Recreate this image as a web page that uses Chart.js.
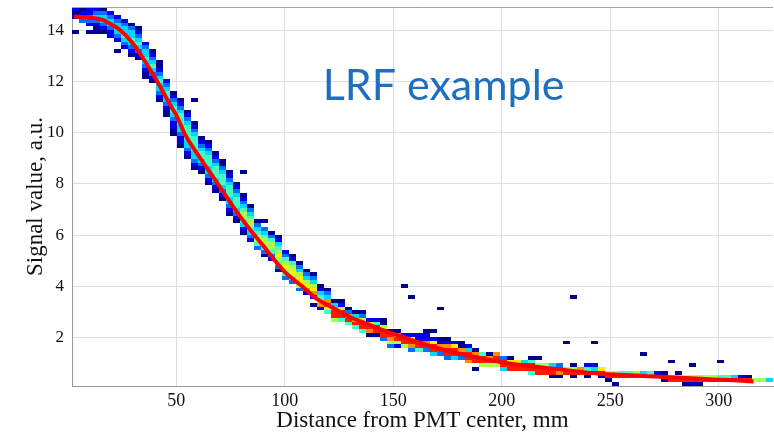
<!DOCTYPE html>
<html>
<head>
<meta charset="utf-8">
<script src="https://cdn.jsdelivr.net/npm/chart.js@4.4.1/dist/chart.umd.min.js"></script>
<style>
  html, body { margin: 0; padding: 0; background: #ffffff; }
  #c { display: block; }
</style>
</head>
<body>
<canvas id="c" width="774" height="433"></canvas>
<script>
// ---------------- data ----------------
const titleText = "LRF example";
const xTitle = "Distance from PMT center, mm";
const yTitle = "Signal value, a.u.";
const xTicks = [50, 100, 150, 200, 250, 300];
const yTicks = [2, 4, 6, 8, 10, 12, 14];

// histogram binning (100 x 100 bins)
const xBinMin = 2, xBinWidth = 3.23;
const yBinMin = 0.1, yBinWidth = 0.148;

// per x-bin: index of the topmost filled y-bin
const colTop = [99,99,99,99,99,98,97,96,95,94, 90,88,85,80,77,75,72,69,65,64,
  61,59,56,53,50,47,43,43,40,39, 35,34,32,30,29,26,25,22,22,20,
  19,19,17,17,17,14,14,13,13,13, 14,14,12,12,11,11,10,9,8,8,
  8,7,7,6,6,7,7,5,5,5, 4,5,4,5,5,4,3,3,3,3,
  3,3,3,3,3,2,3,2,2,2, 2,2,2,2,2,2,2,1,1,1];

// per x-bin: occupancy level of consecutive y-bins going downward (0 = empty, 1..9 = low..high)
const colLevels = [
"212","1223","22332","2343211","1344321","2344322","2344432","23445432","134454321","123454321",
"2344543211","123454321","11234544321","2345543211","123455432211","1234555443221","1234555544321","1234555544321","1234554321","123455544321",
"12345554321","11345554321","123455544321","12345554321","12345665421","1345665432","13456653","1034566531","13566532","1245676531",
"23567653","12567753","13467763","1346782","134678201","1245782","1348975","148996","126995","13895",
"14895","136995","27981","25991","116993","19863","18962","2996","27983","22995",
"122893","1027994","12893","128993","27994","11893","24998","189901","5996","1896",
"8996","3994","1799","799","499","15995","10699","699","4991","3981",
"79","1691","89","2591","249","791","791","6901","59","59",
"69","49","59","29","181","79","179","791","792","691",
"69","69","59","59","49","29","19","6","6","4"
];

// isolated single-count bins
const outCol = [0, 2, 6, 17, 24, 47, 48, 52, 70, 71, 74, 81, 85, 88, 92];
const outRow = [93, 93, 88, 75, 56, 26, 23, 20, 11, 23, 11, 8, 6, 5, 6];

// fitted LRF curve
const curveX = [3, 10, 16, 20, 24, 30, 36, 42, 48, 50, 54, 60, 66, 72, 78, 84, 90, 95, 100, 108,
  115, 122, 130, 138, 145, 150, 160, 170, 180, 190, 200, 210, 225, 245, 260, 275, 292, 305, 316];
const curveY = [14.55, 14.5, 14.42, 14.25, 14.03, 13.5, 12.75, 11.9, 10.98, 10.7, 9.95, 9.15, 8.4, 7.65, 6.9, 6.22, 5.6, 5.06, 4.56, 4.0,
  3.5, 3.17, 2.8, 2.53, 2.29, 2.15, 1.85, 1.59, 1.37, 1.2, 1.03, 0.91, 0.77, 0.58, 0.52, 0.45, 0.38, 0.33, 0.28];

// ---------------- styling ----------------
const levelColors = ['', '#00008f', '#0000f0', '#0070ff', '#00d8ff', '#40ffc0', '#a8ff50', '#f8f000', '#ff8c00', '#ff1a00'];
const serif = "'Liberation Serif', 'Times New Roman', serif";

const heatmapPlugin = {
  id: 'heatmap',
  beforeDatasetsDraw(chart) {
    const {ctx, chartArea: a, scales: {x: xs, y: ys}} = chart;
    ctx.save();
    ctx.beginPath();
    ctx.rect(a.left, a.top, a.right - a.left, a.bottom - a.top);
    ctx.clip();
    const cell = (col, row, lv) => {
      const x0 = xBinMin + xBinWidth * col;
      const y0 = yBinMin + yBinWidth * row;
      const l = Math.round(xs.getPixelForValue(x0));
      const r = Math.round(xs.getPixelForValue(x0 + xBinWidth));
      const t = Math.round(ys.getPixelForValue(y0 + yBinWidth));
      const b = Math.round(ys.getPixelForValue(y0));
      ctx.fillStyle = levelColors[lv];
      ctx.fillRect(l, t, r - l, b - t);
    };
    colLevels.forEach((s, col) => {
      for (let j = 0; j < s.length; j++) {
        const lv = +s[j];
        if (lv > 0) cell(col, colTop[col] - j, lv);
      }
    });
    outCol.forEach((c, i) => cell(c, outRow[i], 1));
    ctx.restore();
  }
};

const framePlugin = {
  id: 'frame',
  afterDraw(chart) {
    const {ctx, chartArea: a} = chart;
    ctx.save();
    ctx.strokeStyle = '#a0a0a0';
    ctx.lineWidth = 1;
    ctx.beginPath();
    ctx.moveTo(a.left, a.top + 0.5);
    ctx.lineTo(a.right, a.top + 0.5);
    ctx.stroke();
    ctx.restore();
  }
};

const labelPlugin = {
  id: 'lrfLabel',
  afterDatasetsDraw(chart) {
    const {ctx, scales: {x: xs, y: ys}} = chart;
    ctx.save();
    ctx.fillStyle = '#1f6fc0';
    ctx.font = "43px Lato, 'Open Sans', sans-serif";
    ctx.textAlign = 'left';
    ctx.textBaseline = 'alphabetic';
    ctx.fillText(titleText, xs.getPixelForValue(117.5), ys.getPixelForValue(11.28));
    ctx.restore();
  }
};

new Chart(document.getElementById('c'), {
  type: 'line',
  data: {
    datasets: [{
      data: curveX.map((x, i) => ({x: x, y: curveY[i]})),
      borderColor: '#ff0000',
      borderWidth: 4,
      pointRadius: 0,
      fill: false,
      tension: 0.4,
      cubicInterpolationMode: 'monotone',
      clip: 0
    }]
  },
  options: {
    responsive: false,
    animation: false,
    devicePixelRatio: 1,
    layout: {padding: {top: 7, right: 1, left: 0, bottom: 0}},
    plugins: {legend: {display: false}, tooltip: {enabled: false}, title: {display: false}},
    scales: {
      x: {
        type: 'linear',
        min: 2, max: 325,
        afterBuildTicks: s => { s.ticks = xTicks.map(v => ({value: v})); },
        afterFit: s => { s.height = 47; s.paddingLeft = 0; s.paddingRight = 0; },
        grid: {color: '#dedede', drawTicks: false},
        border: {color: '#999999'},
        ticks: {font: {family: serif, size: 18}, color: '#111111', padding: 4, maxRotation: 0, autoSkip: false},
        title: {display: true, text: xTitle, color: '#111111',
                font: {family: serif, size: 23, lineHeight: 1}, padding: {top: 0, bottom: 1}}
      },
      y: {
        type: 'linear',
        min: 0.1, max: 14.92,
        afterBuildTicks: s => { s.ticks = yTicks.map(v => ({value: v})); },
        afterFit: s => { s.width = 72; s.paddingTop = 0; s.paddingBottom = 0; },
        grid: {color: '#dedede', drawTicks: false},
        border: {color: '#999999'},
        ticks: {font: {family: serif, size: 17}, color: '#111111', padding: 8, autoSkip: false},
        title: {display: true, text: yTitle, color: '#111111',
                font: {family: serif, size: 23, lineHeight: 1}, padding: {top: 24, bottom: 0}}
      }
    }
  },
  plugins: [heatmapPlugin, framePlugin, labelPlugin]
});
</script>
</body>
</html>
